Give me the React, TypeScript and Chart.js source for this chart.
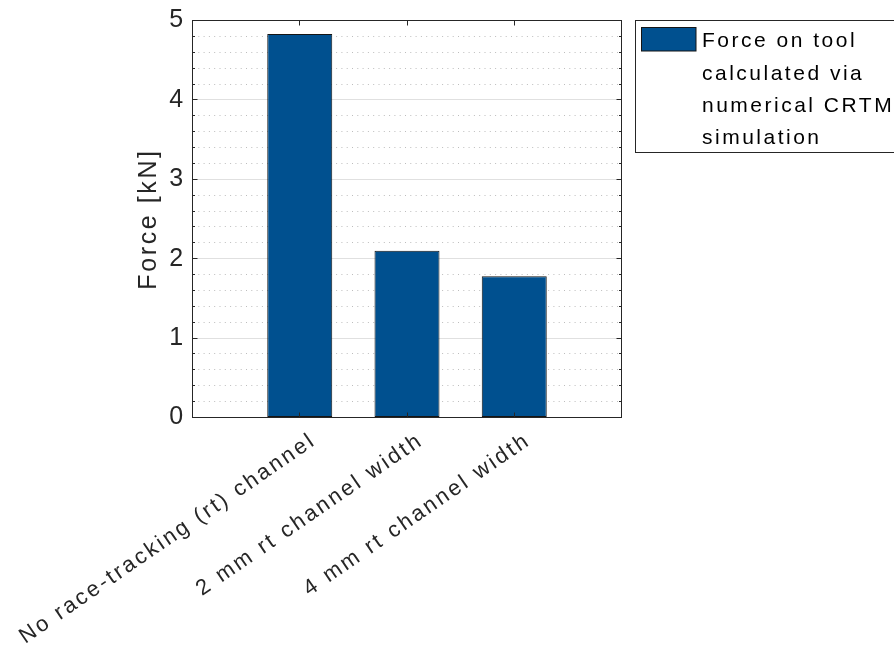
import { useEffect, useRef } from 'react';
import { Chart, registerables } from 'chart.js';

Chart.register(...registerables);

// ---- data ----
const CATEGORIES = ['No race-tracking (rt) channel', '2 mm rt channel width', '4 mm rt channel width'];
const CATEGORY_POS = [1, 2, 3];
const FORCE_KN = [4.83, 2.1, 1.78];
const X_RANGE = [0, 4];
const Y_RANGE = [0, 5];
const Y_MINOR_STEP = 0.2;
const Y_TITLE = 'Force [kN]';
const LEGEND_LINES = ['Force on tool', 'calculated via', 'numerical CRTM', 'simulation'];

// ---- styling ----
const FONT = '"Liberation Sans", Arial, Helvetica, sans-serif';
const AXIS_COLOR = '#262626';
const BAR_COLOR = '#00508f';
const BAR_EDGE = '#151515';
const MAJOR_GRID = '#e0e0e0';
const MINOR_GRID = '#bdbdbd';

const isMajor = (v: number) => Math.abs(v - Math.round(v)) < 1e-6;
const align = (p: number) => Math.round(p - 0.5) + 0.5;

// wide text tracking for chart texts
const textSpacing = {
  id: 'textSpacing',
  beforeUpdate(chart: any) {
    chart.ctx.letterSpacing = '2.6px';
  },
  beforeDraw(chart: any) {
    chart.ctx.letterSpacing = '2.6px';
  },
};

// closed axes box with inward tick marks
const axesBox = {
  id: 'axesBox',
  afterDatasetsDraw(chart: any) {
    const { ctx, chartArea: a, scales } = chart;
    const xs = scales.x;
    const ys = scales.y;
    ctx.save();
    ctx.strokeStyle = AXIS_COLOR;
    ctx.lineWidth = 1;
    ctx.setLineDash([]);
    ctx.beginPath();
    ys.ticks.forEach((t: any) => {
      const py = align(ys.getPixelForValue(t.value));
      const len = isMajor(t.value) ? 5 : 2.5;
      ctx.moveTo(a.left, py);
      ctx.lineTo(a.left + len, py);
      ctx.moveTo(a.right, py);
      ctx.lineTo(a.right - len, py);
    });
    xs.ticks.forEach((t: any) => {
      const px = align(xs.getPixelForValue(t.value));
      ctx.moveTo(px, a.bottom);
      ctx.lineTo(px, a.bottom - 5);
      ctx.moveTo(px, a.top);
      ctx.lineTo(px, a.top + 5);
    });
    ctx.stroke();
    ctx.strokeRect(a.left, a.top, a.right - a.left, a.bottom - a.top);
    ctx.restore();
  },
};

// legend box to the right of the axes, with a multi-line entry
const legendBox = {
  id: 'legendBox',
  afterDraw(chart: any) {
    const { ctx } = chart;
    const ds = chart.data.datasets[0];
    ctx.save();
    ctx.lineWidth = 1;
    ctx.fillStyle = '#ffffff';
    ctx.fillRect(635.5, 20.5, 270, 132);
    ctx.strokeStyle = AXIS_COLOR;
    ctx.strokeRect(635.5, 20.5, 270, 132);
    ctx.fillStyle = ds.backgroundColor;
    ctx.fillRect(641, 27.5, 55, 23.5);
    ctx.strokeStyle = ds.borderColor;
    ctx.strokeRect(641.5, 27.5, 54.5, 23.5);
    ctx.font = `21px ${FONT}`;
    ctx.letterSpacing = '2.5px';
    ctx.fillStyle = '#000000';
    ctx.textAlign = 'left';
    ctx.textBaseline = 'alphabetic';
    LEGEND_LINES.forEach((line, i) => ctx.fillText(line, 702, 47.2 + i * 32.4));
    ctx.restore();
  },
};

export default function App() {
  const canvasRef = useRef<HTMLCanvasElement | null>(null);

  useEffect(() => {
    const canvas = canvasRef.current;
    if (!canvas) return;
    const chart = new Chart(canvas, {
      type: 'bar',
      data: {
        datasets: [
          {
            label: LEGEND_LINES.join(' '),
            data: CATEGORY_POS.map((x, i) => ({ x, y: FORCE_KN[i] })),
            backgroundColor: BAR_COLOR,
            borderColor: BAR_EDGE,
            borderWidth: 1,
            borderSkipped: false,
            barPercentage: 0.606,
            categoryPercentage: 1,
          },
        ],
      },
      options: {
        responsive: false,
        animation: false,
        devicePixelRatio: 1,
        layout: { padding: { top: 20.5, right: 272.5, bottom: 0, left: 0 } },
        plugins: {
          legend: { display: false },
          tooltip: { enabled: false },
        },
        scales: {
          x: {
            type: 'linear',
            min: X_RANGE[0],
            max: X_RANGE[1],
            offset: false,
            grid: { display: false, drawTicks: false, offset: false },
            border: { display: false },
            afterBuildTicks: (scale: any) => {
              scale.ticks = CATEGORY_POS.map((v) => ({ value: v }));
            },
            afterFit: (scale: any) => {
              scale.height = 233.5;
              scale.paddingLeft = 0;
              scale.paddingRight = 0;
            },
            ticks: {
              autoSkip: false,
              minRotation: 34.5,
              maxRotation: 34.5,
              padding: 10,
              labelOffset: 14,
              color: AXIS_COLOR,
              font: { family: FONT, size: 22 },
              callback: (value: any) => {
                const i = CATEGORY_POS.indexOf(Number(value));
                return i >= 0 ? CATEGORIES[i] : '';
              },
            },
          },
          y: {
            type: 'linear',
            min: Y_RANGE[0],
            max: Y_RANGE[1],
            afterFit: (scale: any) => {
              scale.width = 192.5;
              scale.paddingTop = 0;
              scale.paddingBottom = 0;
            },
            grid: {
              drawTicks: false,
              lineWidth: 1,
              color: (ctx: any) => (ctx.tick && isMajor(ctx.tick.value) ? MAJOR_GRID : MINOR_GRID),
            },
            border: {
              display: false,
              dash: (ctx: any) => (ctx.tick && !isMajor(ctx.tick.value) ? [1, 4.3] : []),
            },
            title: {
              display: true,
              text: Y_TITLE,
              color: AXIS_COLOR,
              font: { family: FONT, size: 25 },
              padding: { top: 134.6, bottom: 0 },
            },
            ticks: {
              stepSize: Y_MINOR_STEP,
              autoSkip: false,
              padding: 6.7,
              color: AXIS_COLOR,
              font: { family: FONT, size: 25 },
              callback: (value: any) => (isMajor(Number(value)) ? String(Math.round(Number(value))) : ''),
            },
          },
        },
      },
      plugins: [textSpacing, axesBox, legendBox],
    } as any);
    return () => chart.destroy();
  }, []);

  return (
    <div style={{ position: 'fixed', left: 0, top: 0, width: 894, height: 651, background: '#ffffff' }}>
      <canvas ref={canvasRef} width={894} height={651} style={{ display: 'block' }} />
    </div>
  );
}
